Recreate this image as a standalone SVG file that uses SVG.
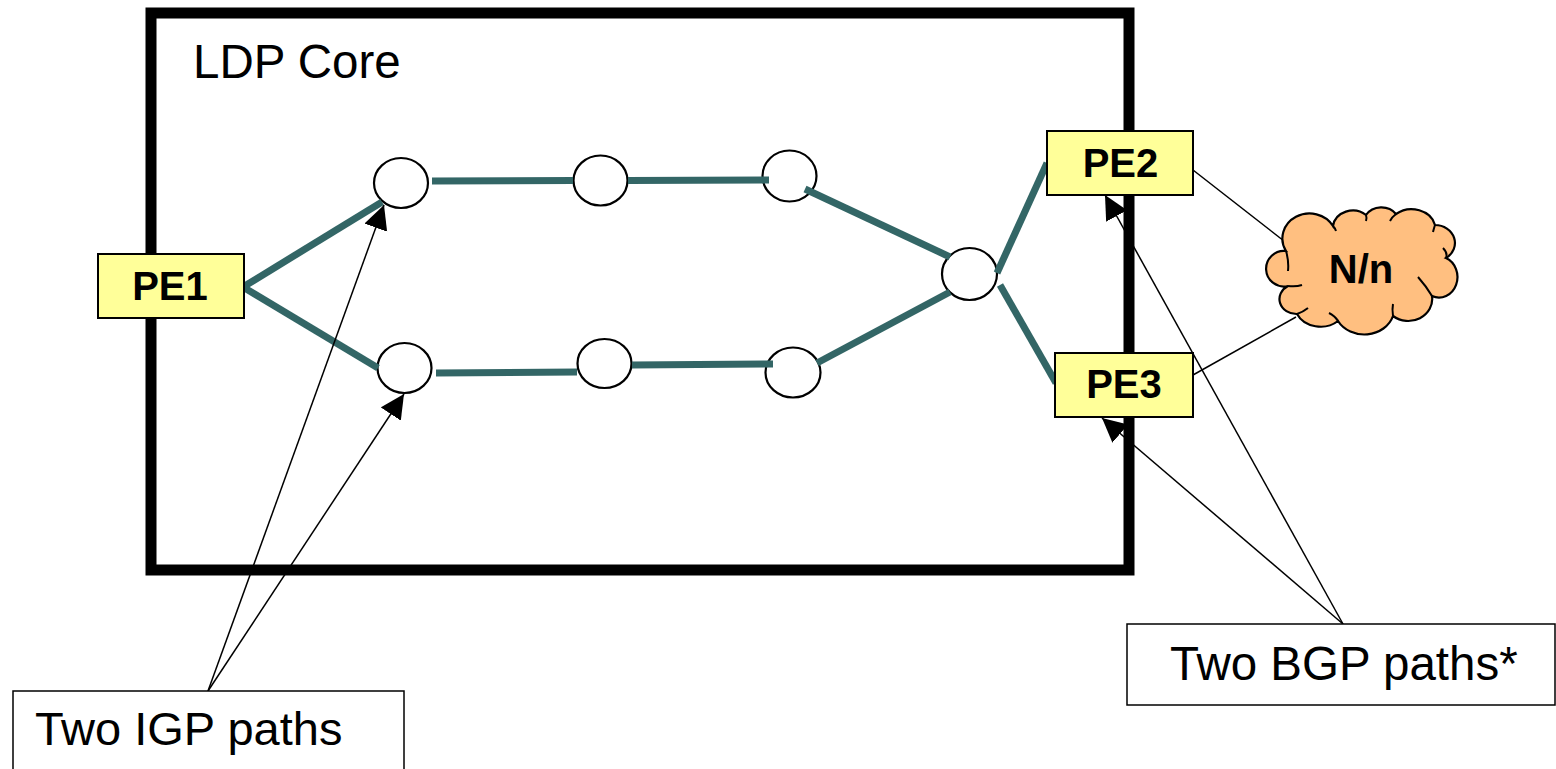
<svg xmlns="http://www.w3.org/2000/svg" width="1556" height="769" viewBox="0 0 1556 769">
  <style>
    .frame { fill: none; stroke: #000; stroke-width: 11; }
    .router { fill: #fff; stroke: #000; stroke-width: 2.2; }
    .link { stroke: #336666; stroke-width: 7; fill: none; }
    .pe { fill: #ffff99; stroke: #000; stroke-width: 2; }
    .pe-label { font-family: "Liberation Sans", Arial, sans-serif; font-weight: bold; font-size: 40px; text-anchor: middle; fill: #000; }
    .cloud { fill: #ffbf80; stroke: #000; stroke-width: 2.2; }
    .cloud-detail { fill: none; stroke: #000; stroke-width: 2; }
    .thin { stroke: #000; stroke-width: 1.5; fill: none; }
    .callout { fill: #fff; stroke: #000; stroke-width: 1.5; }
    .label { font-family: "Liberation Sans", Arial, sans-serif; fill: #000; }
  </style>
  <defs>
    <marker id="arrow" markerUnits="userSpaceOnUse" markerWidth="26" markerHeight="26" refX="24" refY="12" orient="auto" viewBox="0 0 26 26">
      <path d="M0,0 L24,12 L0,24 Z" fill="#000"/>
    </marker>
  </defs>

  <rect width="1556" height="769" fill="#fff"/>

  <!-- core boundary -->
  <g id="ldp-core">
    <rect class="frame" x="151" y="13" width="978" height="557"/>
    <text class="label" x="193" y="78" font-size="47.5">LDP Core</text>
  </g>

  <!-- core routers -->
  <g id="r-top-1"><ellipse class="router" cx="401" cy="183" rx="27" ry="25"/></g>
  <g id="r-top-2"><ellipse class="router" cx="600.5" cy="180.5" rx="27" ry="25"/></g>
  <g id="r-top-3"><ellipse class="router" cx="789.5" cy="176" rx="27" ry="25.5"/></g>
  <g id="r-bot-1"><ellipse class="router" cx="404.5" cy="368" rx="27" ry="25"/></g>
  <g id="r-bot-2"><ellipse class="router" cx="604.5" cy="363.5" rx="27" ry="24.5"/></g>
  <g id="r-bot-3"><ellipse class="router" cx="793" cy="372.5" rx="27.5" ry="25"/></g>
  <g id="r-merge"><ellipse class="router" cx="969.5" cy="274" rx="27.5" ry="26"/></g>

  <!-- links -->
  <g id="connectors">
    <line class="link" x1="243" y1="287" x2="382" y2="202"/>
    <line class="link" x1="243" y1="287" x2="378" y2="368"/>
    <line class="link" x1="432" y1="181" x2="573" y2="180.5"/>
    <line class="link" x1="628" y1="180.5" x2="769" y2="180"/>
    <line class="link" x1="805" y1="189" x2="950" y2="257"/>
    <line class="link" x1="436" y1="373" x2="577" y2="372"/>
    <line class="link" x1="632" y1="365" x2="773" y2="364"/>
    <line class="link" x1="817" y1="363" x2="950" y2="292"/>
    <line class="link" x1="997" y1="273" x2="1047" y2="163"/>
    <line class="link" x1="1000" y1="285" x2="1056" y2="383"/>
    <line class="thin" x1="1193" y1="170" x2="1284" y2="241"/>
    <line class="thin" x1="1193" y1="375" x2="1296" y2="317"/>
  </g>

  <!-- provider edge routers -->
  <g id="pe1">
    <rect class="pe" x="98" y="254" width="146" height="64"/>
    <text class="pe-label" x="170" y="300">PE1</text>
  </g>
  <g id="pe2">
    <rect class="pe" x="1047" y="131" width="146" height="64"/>
    <text class="pe-label" x="1120.5" y="177">PE2</text>
  </g>
  <g id="pe3">
    <rect class="pe" x="1055" y="353" width="138" height="64"/>
    <text class="pe-label" x="1124" y="398">PE3</text>
  </g>

  <!-- customer network -->
  <g id="cloud-nn">
    <path class="cloud" d="M1286,251
      A26,24 0 0 1 1333,226
      A20,18 0 0 1 1366,215
      A18,16 0 0 1 1396,214
      A24,20 0 0 1 1435,225
      A20,18 0 0 1 1446,258
      A18,20 0 0 1 1432,296
      A24,22 0 0 1 1393,316
      A30,26 0 0 1 1338,321
      A26,22 0 0 1 1297,314
      A17,15 0 0 1 1288,286
      A17.8,17.8 0 1 1 1286,251 Z"/>
    <path class="cloud-detail" d="M1286,251 q3,10 2,20"/>
    <path class="cloud-detail" d="M1288,286 q8,1 14,-1"/>
    <path class="cloud-detail" d="M1297,314 q6,-2 11,-6"/>
    <path class="cloud-detail" d="M1338,321 q-3,-5 -9,-8"/>
    <path class="cloud-detail" d="M1393,316 q-1,-7 0,-12"/>
    <path class="cloud-detail" d="M1432,296 q-6,-10 -14,-19"/>
    <path class="cloud-detail" d="M1446,258 q2,-5 -3,-10"/>
    <path class="cloud-detail" d="M1435,225 q-1,3 -2,7"/>
    <path class="cloud-detail" d="M1396,214 q-4,3 -6,7"/>
    <path class="cloud-detail" d="M1366,215 q1,3 0,6"/>
    <path class="cloud-detail" d="M1333,226 q2,2 3,5"/>
    <text class="label" x="1361" y="283" font-size="40" font-weight="bold" text-anchor="middle">N/n</text>
  </g>

  <!-- IGP callout -->
  <g id="callout-igp">
    <line class="thin" x1="208" y1="691" x2="384" y2="205" marker-end="url(#arrow)"/>
    <line class="thin" x1="208" y1="691" x2="404" y2="394" marker-end="url(#arrow)"/>
    <rect class="callout" x="13" y="691" width="391" height="90"/>
    <text class="label" x="35" y="745" font-size="47">Two IGP paths</text>
  </g>

  <!-- BGP callout -->
  <g id="callout-bgp">
    <line class="thin" x1="1343" y1="624" x2="1105" y2="195" marker-end="url(#arrow)"/>
    <line class="thin" x1="1343" y1="624" x2="1102" y2="418" marker-end="url(#arrow)"/>
    <rect class="callout" x="1127" y="624" width="428" height="81"/>
    <text class="label" x="1170" y="680" font-size="47.5">Two BGP paths*</text>
  </g>
</svg>
